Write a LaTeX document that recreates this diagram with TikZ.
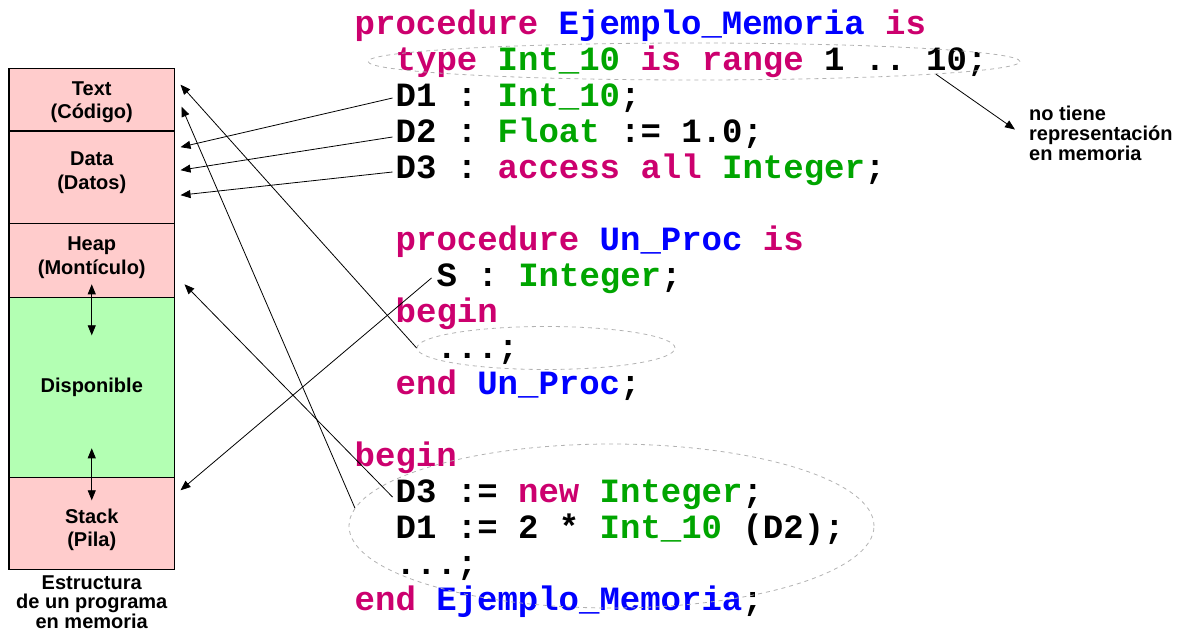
\documentclass[tikz,border=0pt]{standalone}
\usepackage{fontspec}
\setmainfont{Liberation Sans}
\setmonofont{Liberation Mono}
\usepackage{tikz}
\usetikzlibrary {shapes.geometric}
\usetikzlibrary {positioning}
\usetikzlibrary {arrows.meta}

\definecolor{clave}{RGB}{204,0,110}
\definecolor{nombre}{RGB}{0,0,255}
\definecolor{tipo}{RGB}{0,165,0}
\definecolor{rosa}{RGB}{255,204,204}
\definecolor{verde}{RGB}{179,255,179}

\newcommand{\pclave}[1]{\textcolor{clave}{#1}}
\newcommand{\ptipo}[1]{\textcolor{tipo}{#1}}
\newcommand{\pnombre}[1]{\textcolor{nombre}{#1}}

\begin{document}
\begin{tikzpicture}[x=1pt, y=-1pt,
  mem/.style={rectangle, draw, line width=1.2pt, minimum width=165.5pt, inner sep=0pt, outer sep=0pt},
  etiq/.style={inner sep=0pt, align=center, font=\fontsize{20}{23.5}\selectfont\bfseries},
  codigo/.style={anchor=base west, inner sep=0pt, font=\fontsize{34}{36}\selectfont\ttfamily\bfseries\frenchspacing},
  elipse/.style={ellipse, draw=gray!60, dash pattern=on 4pt off 4pt, line width=0.8pt, inner sep=0pt},
  nota/.style={inner sep=0pt, font=\fontsize{20}{20}\selectfont\bfseries},
  flecha/.style={-{Triangle[length=10pt,width=8pt]}, line width=0.8pt},
  dflecha/.style={{Triangle[length=10pt,width=8pt]}-{Triangle[length=10pt,width=8pt]}, line width=0.8pt}]
\useasboundingbox (0,0) rectangle (1182,632);

%memoria
\node [mem, fill=rosa, minimum height=62.7pt] (txt) at (91.75,99.65)
  [label={[etiq, yshift=-2.5pt]center:Text\\(Código)}] {};
\node [mem, fill=rosa, minimum height=92.3pt, below=0pt of txt] (dat)
  [label={[etiq, yshift=4.5pt]center:Data\\(Datos)}] {};
\node [mem, fill=rosa, minimum height=74pt, below=0pt of dat] (heap)
  [label={[etiq, yshift=2.5pt]center:Heap\\(Montículo)}] {};
\node [mem, fill=verde, minimum height=180pt, below=0pt of heap] (disp)
  [label={[etiq]center:Disponible}] {};
\node [mem, fill=rosa, minimum height=92pt, below=0pt of disp] (pila)
  [label={[etiq, yshift=-6.5pt]center:Stack\\(Pila)}] {};
\node (titulo) [nota, align=center, font=\fontsize{20}{19.5}\selectfont\bfseries, below=6pt of pila] {Estructura\\de un programa\\en memoria};

\draw [dflecha] ([yshift=13pt]heap.south) to ([yshift=-38pt]disp.north);
\draw [dflecha] ([yshift=29pt]disp.south) to ([yshift=-23pt]pila.north);

%codigo
\node [codigo] (proc) at (354.5,34) {\pclave{procedure} \pnombre{Ejemplo\_Memoria} \pclave{is}};
\node [codigo] (tipo) at (395.5,70) {\pclave{type} \ptipo{Int\_10} \pclave{is} \pclave{range} 1 .. 10;};
\node [codigo] (d1) at (395.5,106) {D1 : \ptipo{Int\_10};};
\node [codigo] (d2) at (395.5,142) {D2 : \ptipo{Float} := 1.0;};
\node [codigo] (d3) at (395.5,178) {D3 : \pclave{access all} \ptipo{Integer};};
\node [codigo] (sub) at (395.5,250) {\pclave{procedure} \pnombre{Un\_Proc} \pclave{is}};
\node [codigo] (s) at (436.5,286) {S : \ptipo{Integer};};
\node [codigo] (subbegin) at (395.5,322) {\pclave{begin}};
\node [codigo] (subcuerpo) at (436.5,358) {...;};
\node [codigo] (subend) at (395.5,394) {\pclave{end} \pnombre{Un\_Proc};};
\node [codigo] (begin) at (354.5,466) {\pclave{begin}};
\node [codigo] (nuevo) at (395.5,502) {D3 := \pclave{new} \ptipo{Integer};};
\node [codigo] (asig) at (395.5,538) {D1 := 2 * \ptipo{Int\_10} (D2);};
\node [codigo] (resto) at (395.5,574) {...;};
\node [codigo] (fin) at (354.5,610) {\pclave{end} \pnombre{Ejemplo\_Memoria};};

\node [elipse, minimum width=652pt, minimum height=37pt] (tipoEll) at (694,61.5) {};
\node [elipse, minimum width=258pt, minimum height=43pt] (subEll) at (546,348) {};
\node [elipse, minimum width=525pt, minimum height=164pt] (cuerpoEll) at (611.5,526) {};

%sin representacion
\node (sinRep) [nota, align=left, anchor=north west] at (1029,106) {no tiene\\representación\\en memoria};
\draw [flecha] (tipoEll.-3) to ([xshift=-14pt,yshift=4pt]sinRep.west);

%datos
\draw [flecha] ([xshift=-3pt,yshift=8pt]d1.base west) to ([xshift=6pt,yshift=30pt]dat.east);
\draw [flecha] ([xshift=-3pt,yshift=5pt]d2.base west) to ([xshift=6pt,yshift=7pt]dat.east);
\draw [flecha] ([xshift=-3pt,yshift=6pt]d3.base west) to ([xshift=6pt,yshift=-18pt]dat.east);

%texto
\draw [flecha] (subEll.west) to ([xshift=6pt,yshift=15pt]txt.east);
\draw [flecha] (cuerpoEll.176) to ([xshift=7pt,yshift=-7pt]txt.east);

%heap y pila
\draw [flecha] ([xshift=-3pt,yshift=5pt]nuevo.base west) to ([xshift=10pt,yshift=-24pt]heap.east);
\draw [flecha] ([xshift=-5pt,yshift=8pt]s.base west) to ([xshift=6pt,yshift=33pt]pila.east);

\end{tikzpicture}
\end{document}
